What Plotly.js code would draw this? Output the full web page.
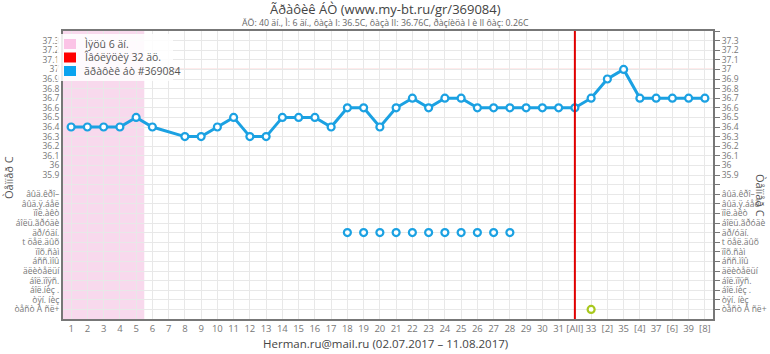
<!DOCTYPE html>
<html><head><meta charset="utf-8">
<script src="https://cdn.plot.ly/plotly-3.0.1.min.js"></script>
<style>html,body{margin:0;padding:0;background:#fff}#c{width:770px;height:354px}</style>
</head><body><div id="c"></div>
<script>
// ---- data ----
const days = [];
for (let i = 1; i <= 40; i++) days.push(i);
const dayLabels = ["1","2","3","4","5","6","7","8","9","10","11","12","13","14","15","16","17","18","19","20","21","22","23","24","25","26","27","28","29","30","31","[All]","33","[2]","35","[4]","37","[6]","39","[8]"];
const temps = [36.4,36.4,36.4,36.4,36.5,36.4,null,36.3,36.3,36.4,36.5,36.3,36.3,36.5,36.5,36.5,36.4,36.6,36.6,36.4,36.6,36.7,36.6,36.7,36.7,36.6,36.6,36.6,36.6,36.6,36.6,36.6,36.7,36.9,37.0,36.7,36.7,36.7,36.7,36.7];
const tempTicks = [37.3,37.2,37.1,37.0,36.9,36.8,36.7,36.6,36.5,36.4,36.3,36.2,36.1,36.0,35.9];
const tempTickText = ["37.3","37.2","37.1","37","36.9","36.8","36.7","36.6","36.5","36.4","36.3","36.2","36.1","36","35.9"];
const symptomLabels = ["âûä.êðî–","âûä.ÿ.áåë","ïîë.àêò","áîëü.ãðóäè","äð/óäí.","t öåë.äûõ","ïîõ.ñàì","áññ.ìîû","äëèòåëüí","áîë.ïîÿñ.","áîë.íèç .","òÿí. íèç","òåñò À ñë+"];
const symptomRowValues = [35.7,35.6,35.5,35.4,35.3,35.2,35.1,35.0,34.9,34.8,34.7,34.6,34.5];
const symptom5Days = [18,19,20,21,22,23,24,25,26,27,28];
const testDays = [33];
const mensStart = 0.5, mensEnd = 5.5;
const ovulationDay = 32;
const refTemp = 37.0;
const legendNames = ["Ìÿöû 6 äí.","Îâóëÿöèÿ 32 äö.","ãðàôèê áò #369084"];
const titleText = "Ãðàôèê ÁÒ (www.my-bt.ru/gr/369084)";
const subText = "ÄÖ: 40 äí., Ì: 6 äí., ôàçà I: 36.5C, ôàçà II: 36.76C, ðàçíèöà I è II ôàç: 0.26C";
const footText = "Herman.ru@mail.ru (02.07.2017 – 11.08.2017)";
const yTitle = "Òåìïåð C";

// ---- build ----
const allTicks = [37.4].concat(tempTicks, [35.8], symptomRowValues);
const allText = [""].concat(tempTickText, [""], symptomLabels);
const blue = "#1ba1e2";
const F = "Open Sans, DejaVu Sans, sans-serif";

const traces = [
  {x: days, y: temps, type: "scatter", mode: "lines+markers", connectgaps: true,
   line: {color: blue, width: 3},
   marker: {size: 7, color: "#fff", line: {color: blue, width: 2.2}},
   hoverinfo: "skip", showlegend: false},
  {x: symptom5Days, y: symptom5Days.map(() => symptomRowValues[4]), type: "scatter", mode: "markers",
   marker: {size: 7, color: "#fff", line: {color: blue, width: 2.2}}, showlegend: false},
  {x: testDays, y: testDays.map(() => symptomRowValues[12]), type: "scatter", mode: "markers",
   marker: {size: 7, color: "#fff", line: {color: "#a8c81e", width: 2.2}}, showlegend: false},
  {x: [1], y: [36], yaxis: "y2", mode: "markers", marker: {opacity: 0}, showlegend: false, hoverinfo: "skip"}
];

const L = 63, R = 713, T = 31, B = 319;
const px = v => (v - L) / (R - L);
const py = v => 1 - (v - T) / (B - T);

const legendColors = ["#fbc3e6", "#ff0000", "#0aa3ef"];
const shapes = [
  {type: "rect", xref: "x", yref: "paper", x0: mensStart, x1: mensEnd, y0: 0, y1: 1,
   fillcolor: "rgba(244,196,228,0.65)", line: {width: 0}, layer: "below"},
  {type: "line", xref: "paper", yref: "y", x0: 0, x1: 1, y0: refTemp, y1: refTemp,
   line: {color: "rgba(255,120,120,0.6)", width: 1.2}, layer: "below"},
  {type: "line", xref: "x", yref: "paper", x0: ovulationDay, x1: ovulationDay, y0: 0, y1: 1,
   line: {color: "#e00000", width: 2}},
  {type: "rect", xref: "paper", yref: "paper", x0: px(57), x1: px(173), y0: py(34), y1: py(81),
   fillcolor: "rgba(255,255,255,0.85)", line: {width: 0}}
];
const annotations = [
  {text: titleText, xref: "paper", yref: "paper", x: px(385), y: py(9), showarrow: false,
   font: {family: F, size: 13, color: "#444"}, xanchor: "center", yanchor: "middle"},
  {text: subText, xref: "paper", yref: "paper", x: px(385), y: py(23.5), showarrow: false,
   font: {family: F, size: 8.8, color: "#666"}, xanchor: "center", yanchor: "middle"},
  {text: footText, xref: "paper", yref: "paper", x: px(385), y: py(343), showarrow: false,
   font: {family: F, size: 11.5, color: "#444"}, xanchor: "center", yanchor: "middle"},
  {text: yTitle, xref: "paper", yref: "paper", x: px(8), y: py(178), showarrow: false, textangle: -90,
   font: {family: F, size: 11, color: "#555"}, xanchor: "center", yanchor: "middle"},
  {text: yTitle, xref: "paper", yref: "paper", x: px(761), y: py(195), showarrow: false, textangle: 90,
   font: {family: F, size: 11, color: "#555"}, xanchor: "center", yanchor: "middle"}
];
legendNames.forEach((n, i) => {
  const yc = 44 + i * 13.5;
  shapes.push({type: "rect", xref: "paper", yref: "paper", x0: px(64), x1: px(76), y0: py(yc - 5), y1: py(yc + 5),
    fillcolor: legendColors[i], line: {width: 0}});
  annotations.push({text: n, xref: "paper", yref: "paper", x: px(82), y: py(yc), showarrow: false,
    xanchor: "left", yanchor: "middle", font: {family: F, size: 10.5, color: "#555"}});
});

const yCommon = {range: [34.4, 37.4], tickmode: "array", tickvals: allTicks, ticktext: allText,
  tickfont: {family: F, size: 8.5, color: "#777"}, zeroline: false, fixedrange: true};

const layout = {
  width: 770, height: 354,
  margin: {l: L, r: 770 - R, t: T, b: 354 - B},
  paper_bgcolor: "#fff", plot_bgcolor: "#fff",
  showlegend: false,
  xaxis: {range: [0.5, 40.5], tickmode: "array", tickvals: days, ticktext: dayLabels, tickangle: 0,
    tickfont: {family: F, size: 9.5, color: "#777"}, showgrid: true, gridcolor: "#e8e8e8", gridwidth: 1,
    showline: true, linecolor: "#777", linewidth: 2, mirror: true, ticks: "", zeroline: false},
  yaxis: Object.assign({}, yCommon, {showgrid: true, gridcolor: "#e8e8e8", gridwidth: 1,
    showline: true, linecolor: "#777", linewidth: 2, mirror: true, ticks: "", ticklen: 0}),
  yaxis2: Object.assign({}, yCommon, {overlaying: "y", side: "right", showgrid: false,
    ticks: "outside", ticklen: 6, tickcolor: "#777", tickwidth: 1, showline: false}),
  shapes: shapes,
  annotations: annotations
};
Plotly.newPlot("c", traces, layout, {staticPlot: true});
</script></body></html>
